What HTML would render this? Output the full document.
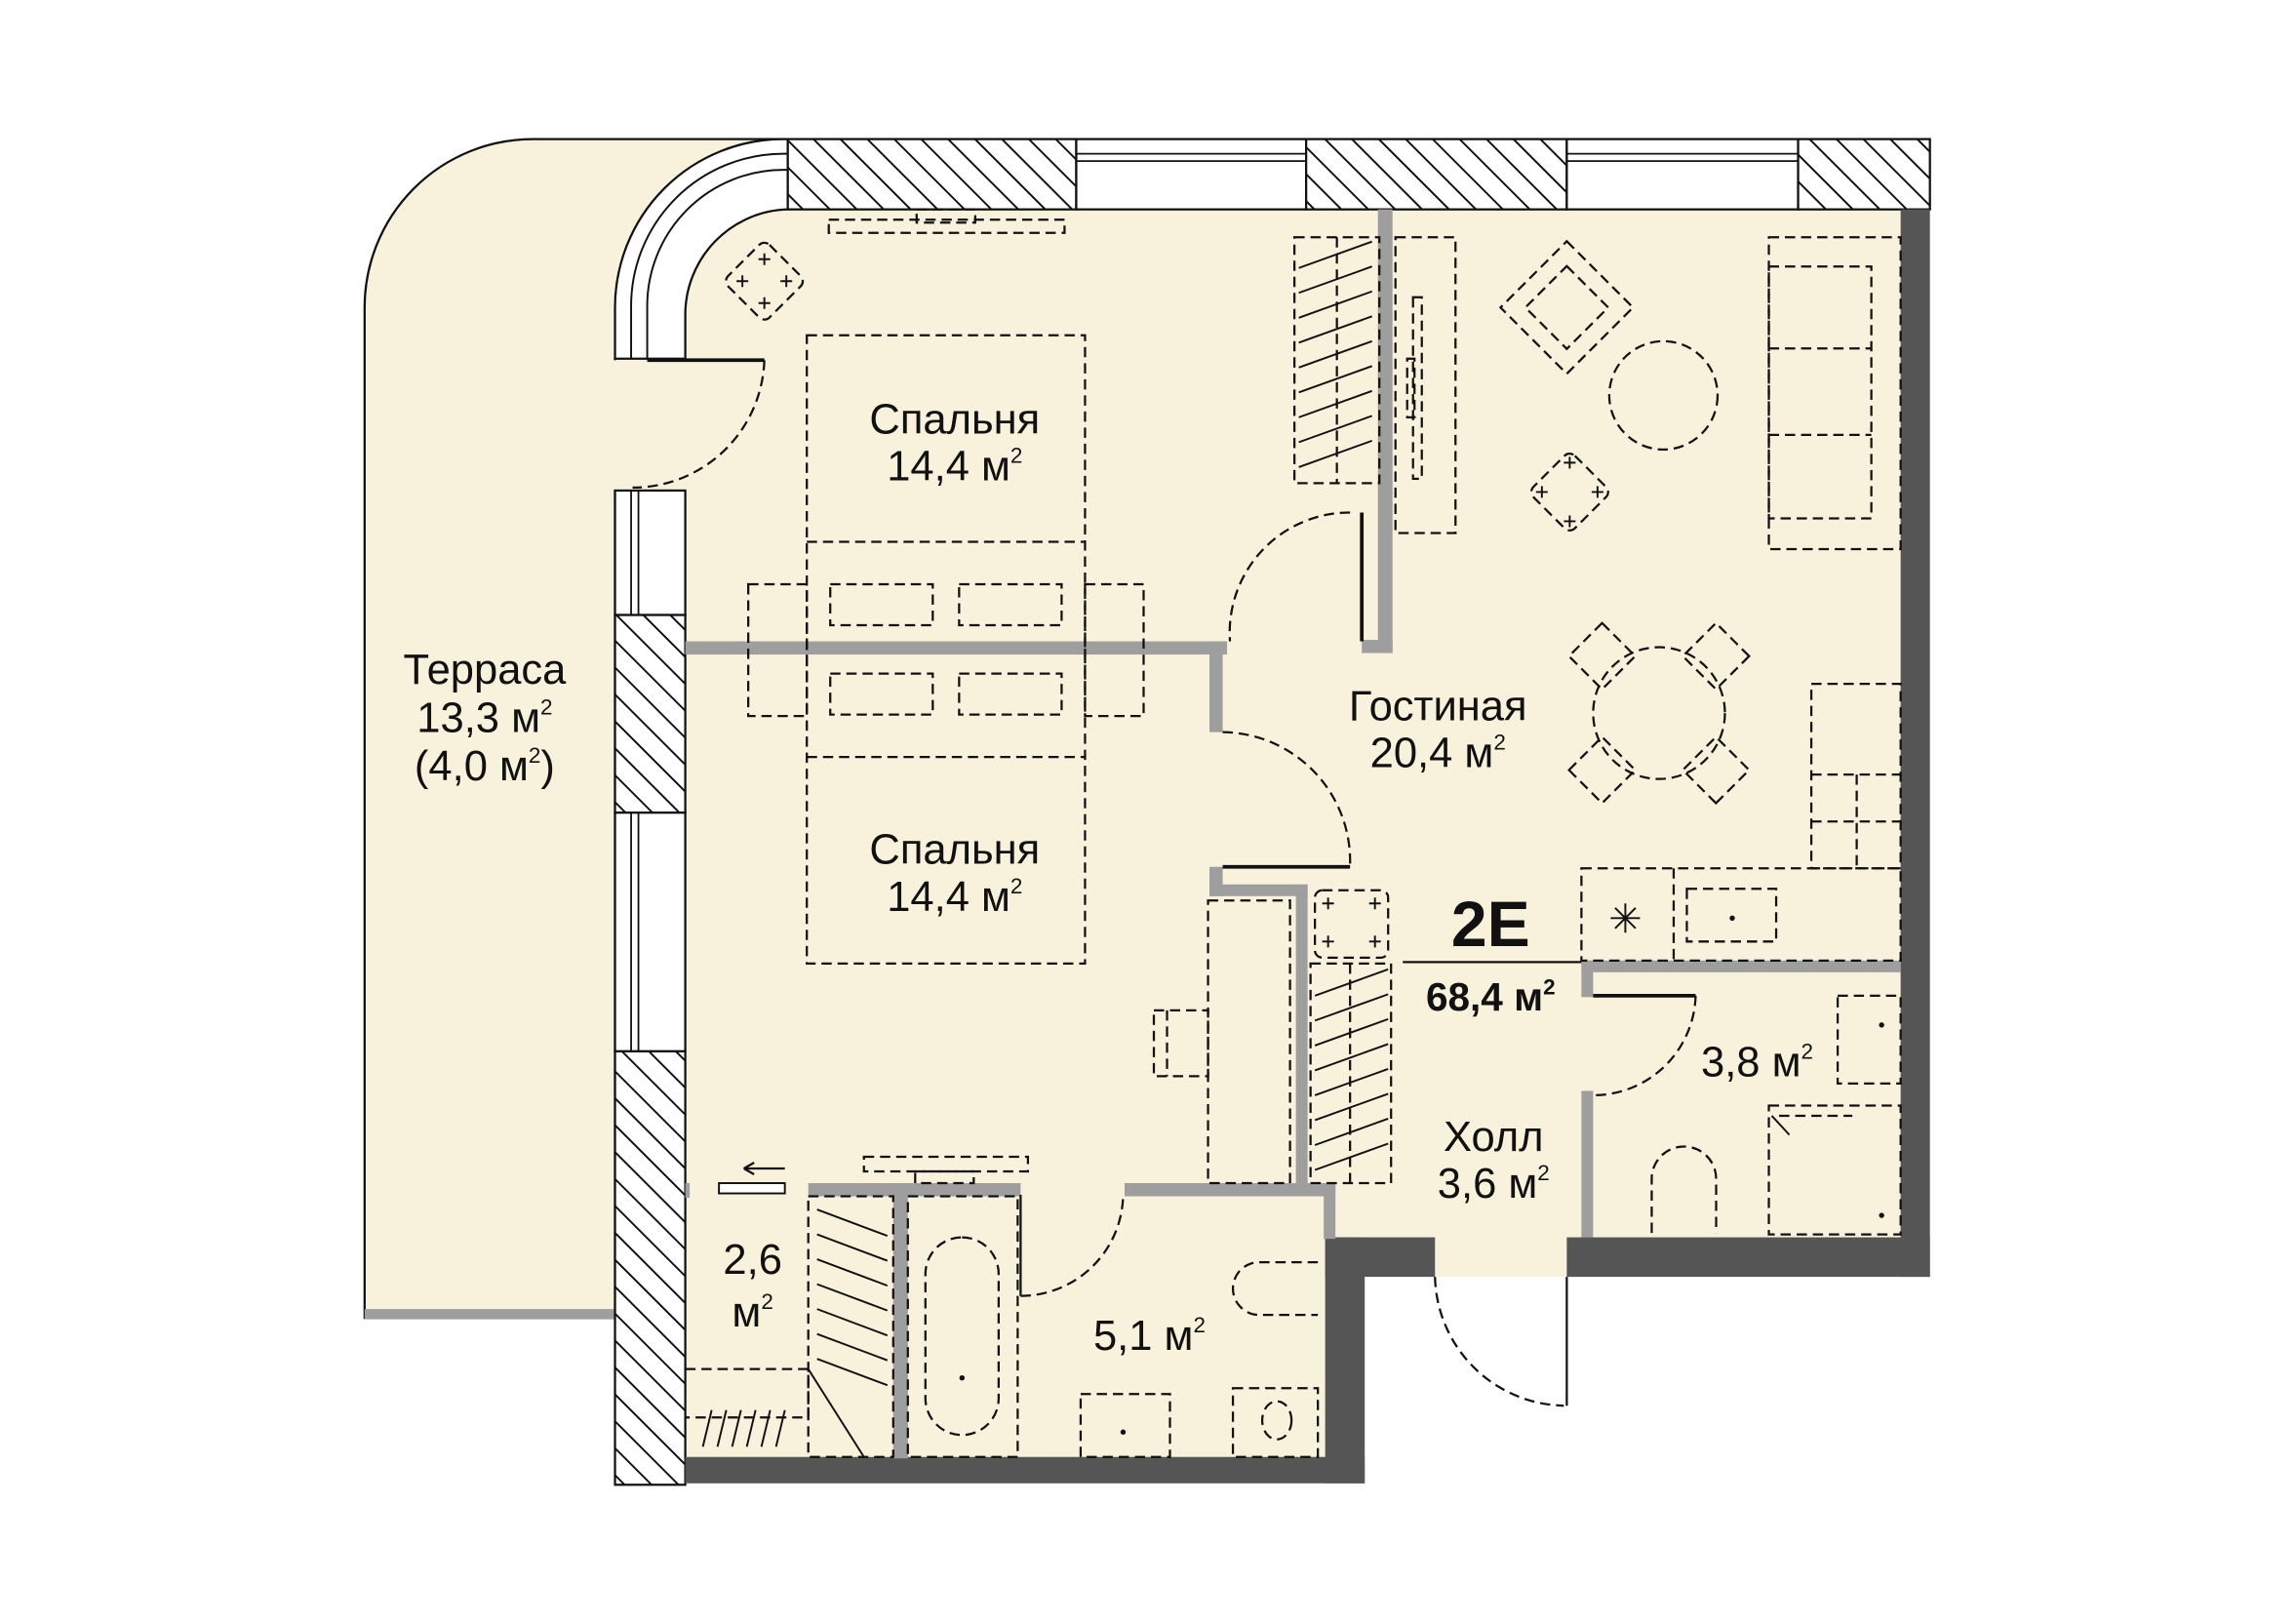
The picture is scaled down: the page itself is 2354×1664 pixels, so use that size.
<!DOCTYPE html>
<html><head><meta charset="utf-8"><style>
html,body{margin:0;padding:0;background:#fff;}
svg{display:block;}
text{font-family:"Liberation Sans","DejaVu Sans",sans-serif;fill:#111;}
</style></head><body>
<svg width="2354" height="1664" viewBox="0 0 1568 1108.4" xmlns="http://www.w3.org/2000/svg">
<defs>
<pattern id="h" patternUnits="userSpaceOnUse" width="13" height="13" patternTransform="rotate(-45)">
<rect width="13" height="13" fill="#fff"/><line x1="0" y1="0" x2="0" y2="13" stroke="#111" stroke-width="2.6"/>
</pattern>
</defs>
<g stroke-linecap="butt">
<!-- terrace -->
<path d="M249,900 L249,210 A115,115 0 0 1 364,95 L538,95 L538,143 L420,245 L420,900 Z" fill="#f8f2dc" stroke="#111" stroke-width="1.5"/>
<rect x="419" y="246" width="50" height="89" fill="#f8f2dc"/>
<rect x="249" y="894" width="171" height="7" fill="#9e9e9e"/>
<!-- apartment fill -->
<path d="M468,245 L468,215 A72,72 0 0 1 538,143 L1300,143 L1300,848 L1070,848 L1070,872 L980,872 L980,848 L910,848 L910,998 L468,998 Z" fill="#f8f2dc"/>
<!-- curved window -->
<path d="M420,245 L420,210 A115,115 0 0 1 535,95 L538,95 L538,143 A72,72 0 0 0 468,215 L468,245 Z" fill="#fff" stroke="#111" stroke-width="1.5"/>
<path d="M431,245 L431,210 A104,104 0 0 1 535,105 L538,105" fill="none" stroke="#111" stroke-width="1.3"/>
<path d="M442,245 L442,210 A93,93 0 0 1 535,116 L538,116" fill="none" stroke="#111" stroke-width="1.3"/>
<!-- top wall -->
<rect x="538" y="95" width="197" height="48" fill="url(#h)" stroke="#111" stroke-width="1.5"/>
<rect x="735" y="95" width="157" height="48" fill="#fff" stroke="#111" stroke-width="1.5"/>
<line x1="735" y1="105" x2="892" y2="105" stroke="#111" stroke-width="1.2"/><line x1="735" y1="110" x2="892" y2="110" stroke="#111" stroke-width="1.2"/>
<rect x="892" y="95" width="178" height="48" fill="url(#h)" stroke="#111" stroke-width="1.5"/>
<rect x="1070" y="95" width="158" height="48" fill="#fff" stroke="#111" stroke-width="1.5"/>
<line x1="1070" y1="105" x2="1228" y2="105" stroke="#111" stroke-width="1.2"/><line x1="1070" y1="110" x2="1228" y2="110" stroke="#111" stroke-width="1.2"/>
<rect x="1228" y="95" width="90" height="48" fill="url(#h)" stroke="#111" stroke-width="1.5"/>
<!-- left wall -->
<rect x="420" y="335" width="48" height="85" fill="#fff" stroke="#111" stroke-width="1.5"/>
<line x1="431" y1="335" x2="431" y2="420" stroke="#111" stroke-width="1.2"/><line x1="436" y1="335" x2="436" y2="420" stroke="#111" stroke-width="1.2"/>
<rect x="420" y="420" width="48" height="135" fill="url(#h)" stroke="#111" stroke-width="1.5"/>
<rect x="420" y="555" width="48" height="163" fill="#fff" stroke="#111" stroke-width="1.5"/>
<line x1="431" y1="555" x2="431" y2="718" stroke="#111" stroke-width="1.2"/><line x1="436" y1="555" x2="436" y2="718" stroke="#111" stroke-width="1.2"/>
<rect x="420" y="718" width="48" height="296" fill="url(#h)" stroke="#111" stroke-width="1.5"/>
<!-- dark walls -->
<rect x="1298" y="143" width="20" height="729" fill="#555"/>
<rect x="1070" y="845" width="248" height="27" fill="#555"/>
<rect x="905" y="845" width="75" height="27" fill="#555"/>
<rect x="905" y="845" width="27" height="168" fill="#555"/>
<rect x="468" y="995" width="464" height="18" fill="#555"/>
<!-- gray walls -->
<g fill="#9e9e9e">
<rect x="468" y="438" width="370" height="9"/>
<rect x="826" y="438" width="9" height="62"/>
<rect x="826" y="592" width="9" height="20"/>
<rect x="826" y="604" width="67" height="8"/>
<rect x="885" y="604" width="8" height="205"/>
<rect x="941" y="143" width="10" height="302"/>
<rect x="930" y="437" width="21" height="9"/>
<rect x="1080" y="656" width="218" height="8"/>
<rect x="1080" y="656" width="8" height="25"/>
<rect x="1080" y="745" width="8" height="100"/>
<rect x="552" y="808" width="145" height="9"/>
<rect x="768" y="808" width="144" height="9"/>
<rect x="904" y="808" width="8" height="38"/>
<rect x="610" y="816" width="10" height="180"/>
<rect x="468" y="808" width="3" height="10"/>
</g>
<!-- solid door lines -->
<g stroke="#111" stroke-width="2.5" fill="none">
<line x1="442" y1="246" x2="522" y2="246"/>
<line x1="930" y1="350" x2="930" y2="438"/>
<line x1="835" y1="592" x2="922" y2="592"/>
<line x1="1088" y1="680" x2="1158" y2="680"/>
<line x1="697" y1="816" x2="697" y2="885" stroke-width="1.5"/>
<line x1="1070" y1="872" x2="1070" y2="960" stroke-width="1.5"/>
<line x1="958" y1="657" x2="1080" y2="657" stroke-width="1.5"/>
</g>
<rect x="491" y="808" width="45" height="7" fill="#fff" stroke="#111" stroke-width="1.3"/>
<path d="M508,798 L536,798 M508,798 L515,794 M508,798 L515,802" stroke="#111" stroke-width="1.5" fill="none"/>
<!-- dashed -->
<g stroke="#111" stroke-width="1.5" fill="none" stroke-dasharray="7,4">
<path d="M522,246 A90,90 0 0 1 432,333"/>
<path d="M922,350 A82,82 0 0 0 840,438"/>
<path d="M835,500 A88,88 0 0 1 922,590"/>
<path d="M1158,680 A70,70 0 0 1 1088,748"/>
<path d="M697,885 A70,70 0 0 0 767,817"/>
<path d="M980,872 A90,90 0 0 0 1068,960"/>
<rect x="566" y="150" width="161" height="9"/><rect x="626" y="143" width="40" height="9"/>
<rect x="551" y="229" width="190" height="429"/>
<line x1="551" y1="370" x2="741" y2="370"/><line x1="551" y1="517" x2="741" y2="517"/>
<rect x="511" y="399" width="40" height="90"/><rect x="741" y="399" width="40" height="90"/>
<rect x="567" y="399" width="70" height="28"/><rect x="655" y="399" width="70" height="28"/>
<rect x="567" y="460" width="70" height="28"/><rect x="655" y="460" width="70" height="28"/>
<rect x="-20" y="-20" width="40" height="40" rx="5" transform="translate(522,192) rotate(45)"/>
<rect x="884" y="162" width="58" height="168"/><line x1="913" y1="162" x2="913" y2="330"/>
<rect x="953" y="162" width="41" height="202"/><rect x="965" y="203" width="6" height="124"/><rect x="961" y="245" width="5" height="40"/>
<rect x="-32" y="-32" width="64" height="64" transform="translate(1070,210) rotate(45)"/>
<rect x="-20" y="-20" width="40" height="40" transform="translate(1070,210) rotate(45)"/>
<circle cx="1136" cy="270" r="37"/>
<rect x="-20" y="-20" width="40" height="40" rx="5" transform="translate(1072,336) rotate(45)"/>
<rect x="1208" y="162" width="90" height="213"/><rect x="1208" y="182" width="70" height="172"/>
<line x1="1208" y1="238" x2="1278" y2="238"/><line x1="1208" y1="297" x2="1278" y2="297"/>
<circle cx="1133" cy="487" r="45"/>
<g transform="translate(1133,487)">
<rect x="-16" y="-16" width="32" height="32" transform="rotate(45) translate(-55,0)"/>
<rect x="-16" y="-16" width="32" height="32" transform="rotate(135) translate(-55,0)"/>
<rect x="-16" y="-16" width="32" height="32" transform="rotate(225) translate(-55,0)"/>
<rect x="-16" y="-16" width="32" height="32" transform="rotate(315) translate(-55,0)"/>
</g>
<rect x="1237" y="467" width="61" height="126"/><line x1="1237" y1="529" x2="1298" y2="529"/>
<line x1="1268" y1="529" x2="1268" y2="593"/><line x1="1237" y1="561" x2="1298" y2="561"/>
<rect x="1080" y="593" width="218" height="63"/><line x1="1143" y1="593" x2="1143" y2="656"/>
<rect x="1152" y="607" width="61" height="36"/>
<rect x="898" y="608" width="50" height="46" rx="5"/>
<rect x="895" y="658" width="55" height="150"/><line x1="922" y1="658" x2="922" y2="808"/>
<rect x="825" y="615" width="56" height="193"/>
<rect x="788" y="690" width="37" height="45"/><line x1="797" y1="690" x2="797" y2="735"/>
<rect x="590" y="790" width="112" height="10"/><rect x="625" y="800" width="40" height="8"/>
<rect x="552" y="817" width="58" height="178"/>
<rect x="620" y="817" width="75" height="178"/>
<rect x="632" y="845" width="50" height="135" rx="25"/>
<path d="M900,862 L860,862 A17,17 0 0 0 860,898 L900,898"/>
<rect x="738" y="952" width="61" height="43"/><rect x="842" y="948" width="58" height="47"/>
<ellipse cx="872" cy="970" rx="10" ry="13"/>
<rect x="1255" y="680" width="43" height="60"/>
<rect x="1208" y="755" width="90" height="88"/><line x1="1215" y1="762" x2="1265" y2="762"/>
<path d="M1128,842 L1128,805 A22,22 0 0 1 1172,805 L1172,842"/>
<path d="M468,935 L552,935 L552,968 L468,968"/>
</g>
<g stroke="#111" stroke-width="1.3" fill="none">
<path d="M887,183l50,-18M887,200l50,-18M887,217l50,-18M887,234l50,-18M887,251l50,-18M887,268l50,-18M887,285l50,-18M887,302l50,-18M887,319l50,-18"/>
<path d="M898,680l50,-18M898,697l50,-18M898,714l50,-18M898,731l50,-18M898,748l50,-18M898,765l50,-18M898,782l50,-18M898,799l50,-18"/>
<path d="M558,826l48,18M558,843l48,18M558,860l48,18M558,877l48,18M558,894l48,18M558,911l48,18M558,928l48,18"/>
<path d="M480,988l6,-25M490,988l6,-25M500,988l6,-25M510,988l6,-25M520,988l6,-25M530,988l6,-25"/>
<path d="M552,935 L590,995"/>
<path d="M1210,762 L1222,775"/>
<path d="M1100,627h20M1110,617v20M1103,620l14,14M1117,620l-14,14"/>
<path d="M903,617h8M907,613v8M935,617h8M939,613v8M903,643h8M907,639v8M935,643h8M939,639v8"/>
<path d="M503,192h8M507,188v8M533,192h8M537,188v8M518,177h8M522,173v8M518,207h8M522,203v8"/>
<path d="M1049,336h8M1053,332v8M1087,336h8M1091,332v8M1068,316h8M1072,312v8M1068,356h8M1072,352v8"/>
</g>
<g fill="#111"><circle cx="1183" cy="627" r="1.8"/><circle cx="1285" cy="700" r="1.8"/><circle cx="1285" cy="830" r="1.8"/><circle cx="657" cy="941" r="1.8"/><circle cx="767" cy="978" r="1.8"/></g>
</g>
<!-- labels -->
<g text-anchor="middle" font-size="29">
<text x="331" y="467">Терраса</text>
<text x="331" y="500">13,3 м<tspan font-size="15" dy="-12">2</tspan></text>
<text x="331" y="533">(4,0 м<tspan font-size="15" dy="-12">2</tspan><tspan dy="12">)</tspan></text>
<text x="652" y="296">Спальня</text>
<text x="652" y="328">14,4 м<tspan font-size="15" dy="-12">2</tspan></text>
<text x="652" y="590">Спальня</text>
<text x="652" y="622">14,4 м<tspan font-size="15" dy="-12">2</tspan></text>
<text x="982" y="492">Гостиная</text>
<text x="982" y="524">20,4 м<tspan font-size="15" dy="-12">2</tspan></text>
<text x="1020" y="786">Холл</text>
<text x="1020" y="818">3,6 м<tspan font-size="15" dy="-12">2</tspan></text>
<text x="1200" y="735">3,8 м<tspan font-size="15" dy="-12">2</tspan></text>
<text x="785" y="922">5,1 м<tspan font-size="15" dy="-12">2</tspan></text>
<text x="514" y="870">2,6</text>
<text x="514" y="906">м<tspan font-size="15" dy="-12">2</tspan></text>
<text x="1018" y="646" font-size="44" font-weight="bold">2E</text>
<text x="1018" y="690" font-size="27" font-weight="bold">68,4 м<tspan font-size="15" dy="-11">2</tspan></text>
</g>
</svg>
</body></html>
